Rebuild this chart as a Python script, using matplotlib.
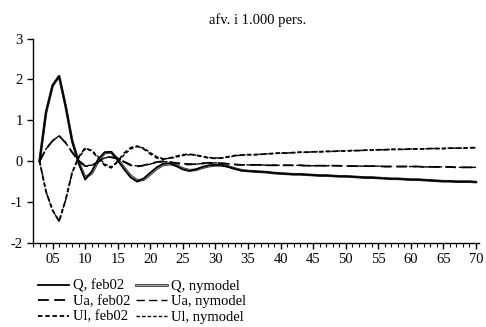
import matplotlib
matplotlib.use("Agg")
import matplotlib.pyplot as plt
import matplotlib.patheffects as pe
from matplotlib.ticker import MultipleLocator, FixedLocator

plt.rcParams["font.family"] = ["Liberation Serif", "DejaVu Serif"]
plt.rcParams["axes.unicode_minus"] = False

years = list(range(3, 71))
tick_years = list(range(5, 71, 5))
tick_labels = [f"{y:02d}" for y in tick_years]

q_feb02 = [0.00, 1.20, 1.85, 2.08, 1.35, 0.50, -0.05, -0.45, -0.25, 0.05,
           0.22, 0.23, 0.02, -0.20, -0.40, -0.50, -0.42, -0.28, -0.15, -0.06,
           -0.05, -0.12, -0.20, -0.24, -0.20, -0.14, -0.10, -0.09, -0.10, -0.14,
           -0.19, -0.23, -0.24, -0.25, -0.26, -0.27, -0.29, -0.30, -0.31, -0.32,
           -0.32, -0.33, -0.34, -0.35, -0.35, -0.36, -0.37, -0.37, -0.38, -0.39,
           -0.40, -0.40, -0.41, -0.42, -0.43, -0.43, -0.44, -0.45, -0.45, -0.46,
           -0.47, -0.48, -0.49, -0.49, -0.50, -0.50, -0.50, -0.51]
q_nymodel = [0.00, 1.20, 1.85, 2.08, 1.35, 0.50, -0.02, -0.40, -0.30, 0.00,
             0.20, 0.22, 0.05, -0.16, -0.36, -0.47, -0.45, -0.32, -0.18, -0.09,
             -0.07, -0.10, -0.18, -0.22, -0.21, -0.16, -0.12, -0.10, -0.10, -0.13,
             -0.18, -0.22, -0.24, -0.25, -0.26, -0.27, -0.29, -0.30, -0.31, -0.32,
             -0.32, -0.33, -0.34, -0.35, -0.35, -0.36, -0.37, -0.37, -0.38, -0.39,
             -0.40, -0.40, -0.41, -0.42, -0.43, -0.43, -0.44, -0.45, -0.45, -0.46,
             -0.47, -0.48, -0.49, -0.49, -0.50, -0.50, -0.50, -0.51]
ua_feb02 = [0.00, 0.30, 0.50, 0.62, 0.45, 0.22, 0.00, -0.12, -0.12, -0.02,
            0.10, 0.10, 0.08, -0.02, -0.10, -0.13, -0.10, -0.06, -0.02, 0.00,
            -0.02, -0.05, -0.07, -0.08, -0.07, -0.05, -0.04, -0.04, -0.05, -0.07,
            -0.08, -0.09, -0.09, -0.09, -0.09, -0.10, -0.10, -0.10, -0.10, -0.10,
            -0.10, -0.11, -0.11, -0.11, -0.11, -0.11, -0.11, -0.12, -0.12, -0.12,
            -0.12, -0.12, -0.12, -0.13, -0.13, -0.13, -0.13, -0.13, -0.13, -0.14,
            -0.14, -0.14, -0.14, -0.14, -0.15, -0.15, -0.15, -0.15]
ua_nymodel = [0.00, 0.30, 0.50, 0.62, 0.45, 0.22, 0.02, -0.10, -0.10, 0.00,
              0.08, 0.09, 0.06, -0.01, -0.08, -0.12, -0.11, -0.07, -0.03, -0.01,
              -0.02, -0.04, -0.06, -0.07, -0.07, -0.06, -0.05, -0.04, -0.05, -0.06,
              -0.08, -0.09, -0.09, -0.09, -0.09, -0.10, -0.10, -0.10, -0.10, -0.10,
              -0.10, -0.11, -0.11, -0.11, -0.11, -0.11, -0.11, -0.12, -0.12, -0.12,
              -0.12, -0.12, -0.12, -0.13, -0.13, -0.13, -0.13, -0.13, -0.13, -0.14,
              -0.14, -0.14, -0.14, -0.14, -0.15, -0.15, -0.15, -0.15]
ul_feb02 = [0.00, -0.75, -1.20, -1.47, -0.95, -0.28, 0.10, 0.33, 0.25, 0.08,
            -0.10, -0.16, 0.00, 0.20, 0.33, 0.37, 0.30, 0.18, 0.08, 0.05,
            0.08, 0.12, 0.16, 0.17, 0.15, 0.11, 0.08, 0.07, 0.08, 0.11,
            0.14, 0.15, 0.16, 0.16, 0.17, 0.18, 0.19, 0.20, 0.20, 0.21,
            0.22, 0.22, 0.23, 0.23, 0.24, 0.24, 0.25, 0.25, 0.26, 0.26,
            0.27, 0.27, 0.28, 0.28, 0.29, 0.29, 0.29, 0.30, 0.30, 0.30,
            0.31, 0.31, 0.31, 0.32, 0.32, 0.32, 0.33, 0.33]
ul_nymodel = [0.00, -0.75, -1.20, -1.47, -0.95, -0.28, 0.08, 0.30, 0.27, 0.11,
              -0.07, -0.14, -0.03, 0.16, 0.30, 0.36, 0.32, 0.21, 0.11, 0.06,
              0.07, 0.10, 0.14, 0.16, 0.15, 0.12, 0.09, 0.08, 0.08, 0.10,
              0.13, 0.15, 0.16, 0.16, 0.17, 0.18, 0.19, 0.20, 0.20, 0.21,
              0.22, 0.22, 0.23, 0.23, 0.24, 0.24, 0.25, 0.25, 0.26, 0.26,
              0.27, 0.27, 0.28, 0.28, 0.29, 0.29, 0.29, 0.30, 0.30, 0.30,
              0.31, 0.31, 0.31, 0.32, 0.32, 0.32, 0.33, 0.33]

fig = plt.figure(figsize=(4.86, 3.27), dpi=100)
ax = fig.add_axes([0.068, 0.257, 0.918, 0.625])

# nymodel Q is drawn as a thin double line: grey outline, light core
double_line = [pe.Stroke(linewidth=1.9, foreground="#303030"), pe.Normal()]
h_q_ny, = ax.plot(years, q_nymodel, color="#b8b8b8", lw=0.6, label="Q, nymodel",
                  path_effects=double_line, zorder=2)
h_q, = ax.plot(years, q_feb02, color="black", lw=1.3, label="Q, feb02", zorder=3)
h_ua, = ax.plot(years, ua_feb02, color="black", lw=1.3, dashes=(6, 3), label="Ua, feb02")
h_ua_ny, = ax.plot(years, ua_nymodel, color="black", lw=1.0, dashes=(6, 3), label="Ua, nymodel")
h_ul, = ax.plot(years, ul_feb02, color="black", lw=1.3, dashes=(2.5, 1.5), label="Ul, feb02")
h_ul_ny, = ax.plot(years, ul_nymodel, color="black", lw=1.0, dashes=(2.5, 1.5), label="Ul, nymodel")

ax.set_xlim(2, 70.5)
ax.set_ylim(-2, 3)
ax.yaxis.set_major_locator(MultipleLocator(1))
ax.xaxis.set_major_locator(FixedLocator(tick_years))
ax.set_xticklabels(tick_labels)
ax.xaxis.set_minor_locator(MultipleLocator(1))
for side in ("top", "right"):
    ax.spines[side].set_visible(False)
ax.spines["left"].set_linewidth(1.0)
ax.spines["bottom"].set_linewidth(1.0)
ax.tick_params(axis="both", direction="out", labelsize=10.5, width=1.0, length=4, color="black")
ax.tick_params(axis="x", which="minor", direction="out", length=3, width=0.8)
ax.tick_params(axis="x", pad=3)

fig.text(0.531, 0.939, "afv. i 1.000 pers.", ha="center", va="center", fontsize=10.5)

# legend fills column-wise, so order handles to read row by row
handles = [h_q, h_ua, h_ul, h_q_ny, h_ua_ny, h_ul_ny]
fig.legend(handles=handles, labels=[h.get_label() for h in handles],
           loc="upper left", bbox_to_anchor=(0.078, 0.145), ncol=2, frameon=False,
           fontsize=10.5, handlelength=2.1, handletextpad=0.3, columnspacing=0.4,
           labelspacing=0.15, borderpad=0, borderaxespad=0)

fig.savefig("out.png", dpi=100, facecolor="white")
